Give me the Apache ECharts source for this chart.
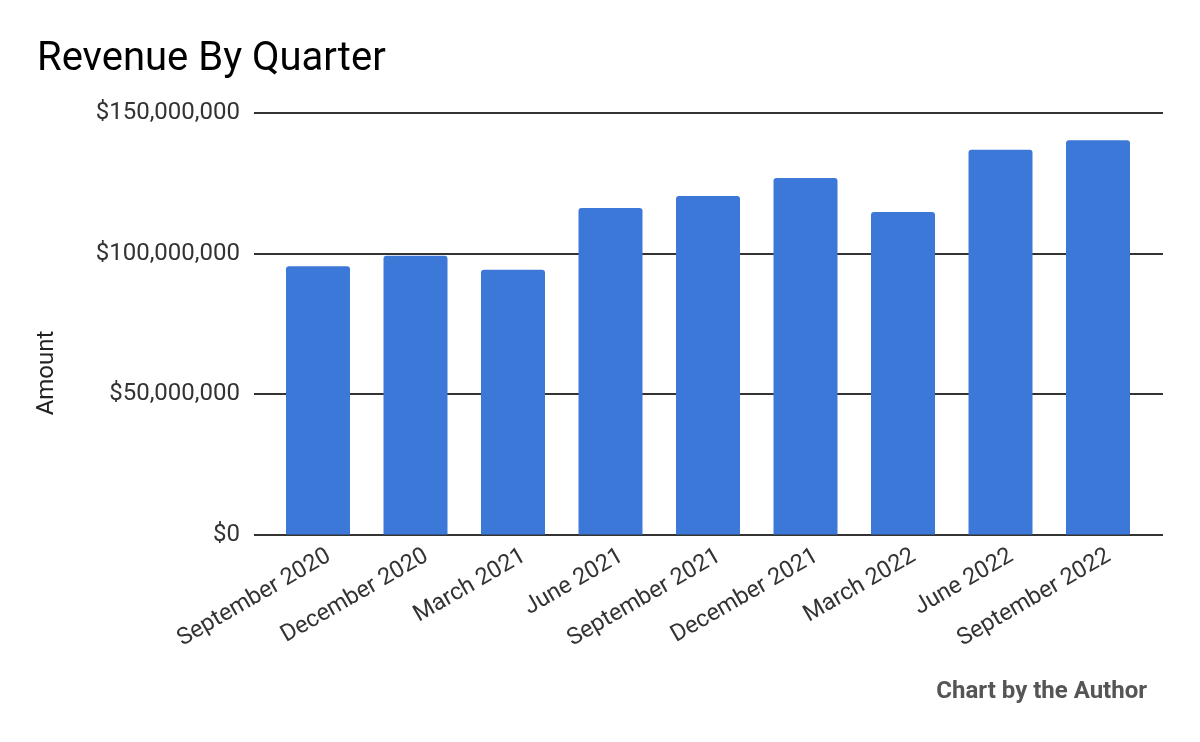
<!DOCTYPE html>
<html>
<head>
<meta charset="utf-8">
<style>
  html, body { margin: 0; padding: 0; background: #fff; }
  #chart { width: 1200px; height: 742px; }
</style>
<script src="https://cdn.jsdelivr.net/npm/echarts@6/dist/echarts.min.js"></script>
</head>
<body>
<div id="chart"></div>
<script>
const quarters = ['September 2020', 'December 2020', 'March 2021', 'June 2021', 'September 2021',
    'December 2021', 'March 2022', 'June 2022', 'September 2022'];
const revenue = [95500000, 99200000, 94200000, 116200000, 120500000, 126900000, 114800000, 136900000, 140300000];
const yTicks = [0, 50000000, 100000000, 150000000];

var chart = echarts.init(document.getElementById('chart'));

const fontFamily = 'Roboto, "Noto Sans", sans-serif';
const money = (v) => '$' + v.toLocaleString('en-US');
const yRange = {
    type: 'value',
    min: yTicks[0],
    max: yTicks[yTicks.length - 1],
    interval: yTicks[1] - yTicks[0],
};

chart.setOption({
    animation: false,
    title: {
        text: 'Revenue By Quarter',
        left: 32,
        top: 35,
        textStyle: { fontFamily: fontFamily, fontSize: 40, fontWeight: 'normal', color: '#000' },
    },
    grid: [
        // gridlines span a bit wider than the bars
        { left: 254, right: 37, top: 113, bottom: 207.5 },
        { left: 269.25, right: 53.25, top: 113, bottom: 207.5 },
        // labels sit slightly right of the bar centres
        { left: 280.25, right: 42.25, top: 113, bottom: 207.5 },
    ],
    xAxis: [
        { gridIndex: 0, type: 'category', data: quarters, show: false },
        { gridIndex: 1, type: 'category', data: quarters, show: false },
        {
            gridIndex: 2,
            type: 'category',
            data: quarters,
            axisLine: { show: false },
            axisTick: { show: false },
            axisLabel: {
                rotate: 30,
                interval: 0,
                margin: 20,
                fontFamily: fontFamily,
                fontSize: 23.5,
                color: '#333',
            },
        },
    ],
    yAxis: [
        Object.assign({
            gridIndex: 0,
            axisLine: { show: false },
            axisTick: { show: false },
            axisLabel: {
                margin: 14,
                fontFamily: fontFamily,
                fontSize: 24,
                color: '#333',
                formatter: money,
            },
            splitLine: { lineStyle: { color: '#333', width: 2 } },
        }, yRange),
        Object.assign({ gridIndex: 1, show: false }, yRange),
        Object.assign({ gridIndex: 2, show: false }, yRange),
    ],
    series: [
        {
            name: 'Revenue',
            type: 'bar',
            xAxisIndex: 1,
            yAxisIndex: 1,
            data: revenue,
            barWidth: 64,
            itemStyle: { color: '#3c78d8', borderRadius: [3, 3, 0, 0] },
        },
    ],
    graphic: [
        {
            type: 'text',
            x: 47,
            y: 373,
            rotation: Math.PI / 2,
            style: {
                text: 'Amount',
                font: '24px ' + fontFamily,
                fill: '#222',
                align: 'center',
                verticalAlign: 'middle',
            },
        },
        {
            type: 'text',
            x: 1147,
            y: 692,
            style: {
                text: 'Chart by the Author',
                font: 'bold 24px ' + fontFamily,
                fill: '#555',
                align: 'right',
                verticalAlign: 'middle',
            },
        },
    ],
});

window.addEventListener('resize', function () {
    chart.resize();
});
</script>
</body>
</html>
